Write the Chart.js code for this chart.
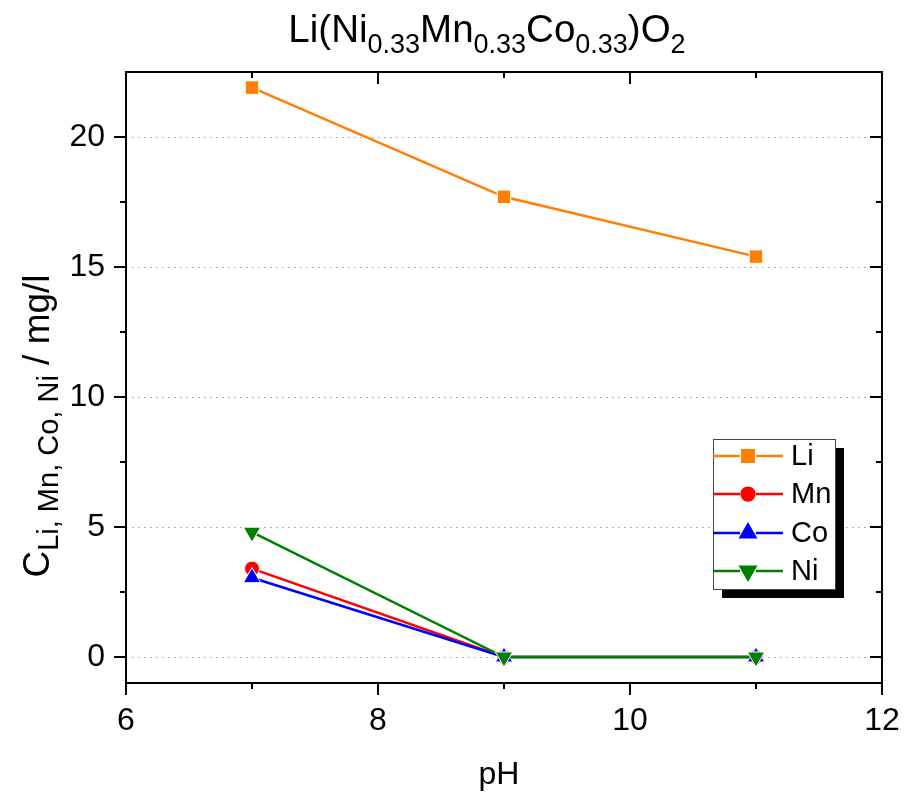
<!DOCTYPE html>
<html>
<head>
<meta charset="utf-8">
<script src="https://cdn.jsdelivr.net/npm/chart.js@4"></script>
<style>
  html, body { margin: 0; padding: 0; background: #fff; }
  #wrap { width: 908px; height: 795px; position: relative; }
</style>
</head>
<body>
<div id="wrap"><canvas id="chart"></canvas></div>
<script>
// concentrations (mg/l) against pH
const phValues = [7, 9, 11];
const liConc = [21.9, 17.7, 15.4];
const mnConc = [3.4, 0, 0];
const coConc = [3.05, 0, 0];
const niConc = [4.8, 0, 0];

const seriesNames = ['Li', 'Mn', 'Co', 'Ni'];
const seriesColors = ['#ff8000', '#ff0000', '#0000ff', '#008000'];
const seriesShapes = ['rect', 'circle', 'triangle', 'triangle'];

const xTicks = [6, 8, 10, 12];
const xMinor = [7, 9, 11];
const yTicks = [0, 5, 10, 15, 20];
const yMinor = [2.5, 7.5, 12.5, 17.5];

const FONT = "'Liberation Sans', Arial, sans-serif";

const seriesData = [liConc, mnConc, coConc, niConc];

const pointSize = { rect: 9.5, circle: 7.5, triangle: 10 };

const datasets = seriesNames.map((name, i) => ({
  label: name,
  data: phValues.map((x, j) => ({ x: x, y: seriesData[i][j] })),
  showLine: true,
  borderColor: seriesColors[i],
  backgroundColor: seriesColors[i],
  borderWidth: 2.5,
  pointStyle: seriesShapes[i],
  pointRotation: name === 'Ni' ? 180 : 0,
  pointRadius: pointSize[seriesShapes[i]],
  pointHoverRadius: pointSize[seriesShapes[i]],
  pointBackgroundColor: seriesColors[i],
  pointBorderColor: '#fff',
  pointBorderWidth: 1,
  order: seriesNames.length - i,
}));

// writes a string made of normal and subscript pieces, centred on x
function drawRich(ctx, parts, x, y, size, subSize, subDrop) {
  let w = 0;
  parts.forEach(([t, sub]) => {
    ctx.font = (sub ? subSize : size) + 'px ' + FONT;
    w += ctx.measureText(t).width;
  });
  let cx = x - w / 2;
  ctx.textAlign = 'left';
  ctx.textBaseline = 'alphabetic';
  ctx.fillStyle = '#000';
  parts.forEach(([t, sub]) => {
    ctx.font = (sub ? subSize : size) + 'px ' + FONT;
    ctx.fillText(t, cx, sub ? y + subDrop : y);
    cx += ctx.measureText(t).width;
  });
}

function drawMarker(ctx, shape, x, y, r, rot) {
  Chart.helpers.drawPoint(ctx, {
    pointStyle: shape, radius: r, rotation: rot,
    borderWidth: 1, borderColor: '#fff'
  }, x, y);
}

const gridLines = {
  id: 'gridLines',
  beforeDatasetsDraw(chart) {
    const { ctx, chartArea: a, scales: { y } } = chart;
    ctx.save();
    ctx.strokeStyle = '#999';
    ctx.lineWidth = 1;
    ctx.setLineDash([1.5, 4.5]);
    yTicks.forEach(v => {
      const py = Math.round(y.getPixelForValue(v)) + 0.5;
      ctx.beginPath();
      ctx.moveTo(a.left, py);
      ctx.lineTo(a.right, py);
      ctx.stroke();
    });
    ctx.restore();
  }
};

const frame = {
  id: 'frame',
  afterDraw(chart) {
    const { ctx, chartArea: a, scales: { x, y } } = chart;
    ctx.save();
    ctx.strokeStyle = '#000';
    ctx.lineWidth = 2;
    ctx.strokeRect(a.left, a.top, a.right - a.left, a.bottom - a.top);

    // ticks: outward on left/bottom, inward on top/right
    const major = 12, minor = 6;
    ctx.beginPath();
    xTicks.concat(xMinor).forEach(v => {
      const px = x.getPixelForValue(v);
      const len = xTicks.includes(v) ? major : minor;
      ctx.moveTo(px, a.bottom); ctx.lineTo(px, a.bottom + len);
      ctx.moveTo(px, a.top); ctx.lineTo(px, a.top + len);
    });
    yTicks.concat(yMinor).forEach(v => {
      const py = y.getPixelForValue(v);
      const len = yTicks.includes(v) ? major : minor;
      ctx.moveTo(a.left, py); ctx.lineTo(a.left - len, py);
      ctx.moveTo(a.right, py); ctx.lineTo(a.right - len, py);
    });
    ctx.stroke();

    // title
    drawRich(ctx, [['Li(Ni', 0], ['0.33', 1], ['Mn', 0], ['0.33', 1], ['Co', 0], ['0.33', 1], [')O', 0], ['2', 1]],
      487, 42, 38.5, 27, 11);

    // axis titles
    drawRich(ctx, [['pH', 0]], 499, 784, 32, 32, 0);
    ctx.save();
    ctx.translate(49, 426);
    ctx.rotate(-Math.PI / 2);
    drawRich(ctx, [['C', 0], ['Li, Mn, Co, Ni', 1], [' / mg/l', 0]], 0, 0, 37, 29, 9);
    ctx.restore();

    // legend box with shadow
    const lx = 713, ly = 439, lw = 122, lh = 150;
    ctx.fillStyle = '#000';
    ctx.fillRect(lx + 9, ly + 9, lw, lh);
    ctx.fillStyle = '#fff';
    ctx.fillRect(lx, ly, lw, lh);
    ctx.lineWidth = 1;
    ctx.strokeStyle = '#444';
    ctx.strokeRect(lx + 0.5, ly + 0.5, lw, lh);

    const rows = [456, 494, 533, 571];
    chart.data.datasets.forEach((ds, i) => {
      const ry = rows[i];
      ctx.strokeStyle = ds.borderColor;
      ctx.lineWidth = 2.5;
      ctx.beginPath();
      ctx.moveTo(lx, ry); ctx.lineTo(lx + 27, ry);
      ctx.moveTo(lx + 43, ry); ctx.lineTo(lx + 70, ry);
      ctx.stroke();
      ctx.fillStyle = ds.backgroundColor;
      drawMarker(ctx, ds.pointStyle, lx + 35, ry, ds.pointRadius * 0.85, ds.pointRotation);
      ctx.fillStyle = '#000';
      ctx.font = '29px ' + FONT;
      ctx.textAlign = 'left';
      ctx.textBaseline = 'middle';
      ctx.fillText(ds.label, lx + 78, ry + 1);
    });
    ctx.restore();
  }
};

new Chart(document.getElementById('chart'), {
  type: 'scatter',
  data: { datasets: datasets },
  options: {
    responsive: true,
    maintainAspectRatio: false,
    animation: false,
    layout: { padding: { top: 72, right: 26, bottom: 0, left: 0 } },
    plugins: { legend: { display: false }, tooltip: { enabled: false }, title: { display: false } },
    scales: {
      x: {
        type: 'linear', min: 6, max: 12,
        afterBuildTicks: s => { s.ticks = xTicks.map(v => ({ value: v })); },
        afterFit: s => { s.height = 112; s.paddingLeft = 0; s.paddingRight = 0; },
        grid: { display: false, drawTicks: false },
        border: { display: false },
        ticks: { color: '#000', font: { family: FONT, size: 32 }, padding: 19, maxRotation: 0 }
      },
      y: {
        type: 'linear', min: -1, max: 22.5,
        afterBuildTicks: s => { s.ticks = yTicks.map(v => ({ value: v })); },
        afterFit: s => { s.width = 126; s.paddingTop = 0; s.paddingBottom = 0; },
        grid: { display: false, drawTicks: false },
        border: { display: false },
        ticks: { color: '#000', font: { family: FONT, size: 32 }, padding: 21 }
      }
    }
  },
  plugins: [gridLines, frame]
});
</script>
</body>
</html>
